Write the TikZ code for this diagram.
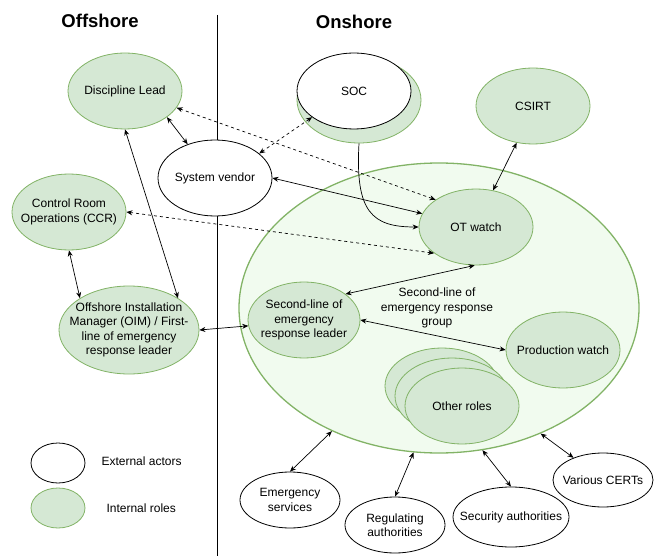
\documentclass[tikz,border=0pt]{standalone}
\usepackage{fontspec}
\setmainfont{Liberation Sans}
\usetikzlibrary{shapes.geometric,arrows.meta}
\definecolor{gfill}{HTML}{D5E8D4}
\definecolor{gline}{HTML}{82B366}
\definecolor{bigfill}{HTML}{F1FBEF}
\tikzset{
  lbl/.style={font=\fontsize{12}{14.5}\selectfont, align=center},
  ell/.style={ellipse, inner sep=0pt},
  intl/.style={ell, draw=gline, fill=gfill, line width=0.8pt},
  extl/.style={ell, draw=black, fill=white, line width=0.8pt},
  txt/.style={label={[lbl]center:#1}},
  title/.style={font=\fontsize{18.5}{22}\selectfont\bfseries, anchor=base, inner sep=0pt},
  conn/.style={line width=0.7pt, {Stealth[length=6pt,width=5pt]}-{Stealth[length=6pt,width=5pt]}},
  oneway/.style={line width=0.7pt, -{Stealth[length=6pt,width=5pt]}},
  dconn/.style={conn, dash pattern=on 3pt off 3pt}
}
\begin{document}
\begin{tikzpicture}[x=1pt,y=-1pt]
\useasboundingbox (0,0) rectangle (658,556);
% titles and divider
\node[title] (off) at (100,28) {Offshore};
\node[title] (on) at (354,29) {Onshore};
\coordinate (divt) at (217,15);
\coordinate (divb) at (217,556);
\draw[line width=0.8pt] (divt) -- (divb);

% big group ellipse
\node[ellipse, draw=gline, fill=bigfill, line width=1.3pt, minimum width=400pt, minimum height=290pt] (grp) at (439,308) {};
\node[lbl] (grplbl) at (437,308) {Second-line of\\emergency response\\group};

% offshore nodes
\node[intl, minimum width=114pt, minimum height=76pt, txt={Discipline Lead}] (dl) at (125,91) {};
\node[intl, minimum width=114pt, minimum height=76pt, txt={Control Room\\Operations (CCR)}] (ccr) at (69,212) {};
\node[intl, minimum width=140pt, minimum height=88pt, txt={Offshore Installation\\Manager (OIM) / First-\\line of emergency\\response leader}] (oim) at (129,330) {};
\node[extl, minimum width=114pt, minimum height=76pt, txt={System vendor}] (sv) at (215,178) {};

% SOC with green shadow
\node[intl, minimum width=124pt, minimum height=86pt] (socsh) at (359,100) {};
\node[extl, minimum width=114pt, minimum height=76pt, txt={SOC}] (soc) at (354,91) {};
\node[intl, minimum width=114pt, minimum height=76pt, txt={CSIRT}] (csirt) at (533,106) {};

% inside group
\node[intl, minimum width=114pt, minimum height=76pt, txt={OT watch}] (ot) at (476,227) {};
\node[intl, minimum width=112pt, minimum height=76pt, txt={Second-line of\\emergency\\response leader}] (sl) at (304,320) {};
\node[intl, minimum width=114pt, minimum height=76pt, txt={Production watch}] (pw) at (563,350) {};
\node[intl, minimum width=114pt, minimum height=76pt] (or3) at (442,386) {};
\node[intl, minimum width=114pt, minimum height=76pt] (or2) at (452,396) {};
\node[intl, minimum width=114pt, minimum height=76pt, txt={Other roles}] (or1) at (462,406) {};

% bottom external actors
\node[extl, minimum width=100pt, minimum height=56pt, txt={Emergency\\services}] (es) at (290,500) {};
\node[extl, minimum width=100pt, minimum height=56pt, txt={Regulating\\authorities}] (ra) at (395,525) {};
\node[extl, minimum width=116pt, minimum height=60pt, txt={Security authorities}] (sa) at (511,517) {};
\node[extl, minimum width=100pt, minimum height=54pt, txt={Various CERTs}] (vc) at (603,480) {};

% legend
\node[extl, minimum width=54pt, minimum height=40pt] (lgext) at (58,463) {};
\node[intl, minimum width=54pt, minimum height=40pt] (lgint) at (58,508) {};
\node[lbl, anchor=west] (lgextt) at (98,461) {External actors};
\node[lbl, anchor=west] (lgintt) at (103,508) {Internal roles};

% connectors
\draw[conn] (dl.-32) -- (sv.129.5);
\draw[dconn] (dl.-18) -- (ot.146.6);
\draw[dconn] (soc.212.7) -- (sv.29.6);
\draw[conn] (sv.east) -- (ot.166.2);
\draw[oneway] (socsh.south) .. controls (355,212) and (372,227) .. (ot.west);
\draw[dconn] (ccr.east) -- (ot.212.4);
\draw[conn] (ccr.south) -- (oim.147.9);
\draw[conn] (dl.south) -- (oim.33.7);
\draw[conn] (oim.east) -- (sl.186);
\draw[conn] (sl.32.7) -- (ot.-92);
\draw[conn] (sl.east) -- (pw.west);
\draw[conn] (csirt.-114.7) -- (ot.65.3);
\draw[conn] (grp.-131.6) -- (es.north);
\draw[conn] (grp.-100.7) -- (ra.north);
\draw[conn] (grp.-73.6) -- (sa.north);
\draw[conn] (grp.-51.3) -- (vc.143.4);
\end{tikzpicture}
\end{document}
